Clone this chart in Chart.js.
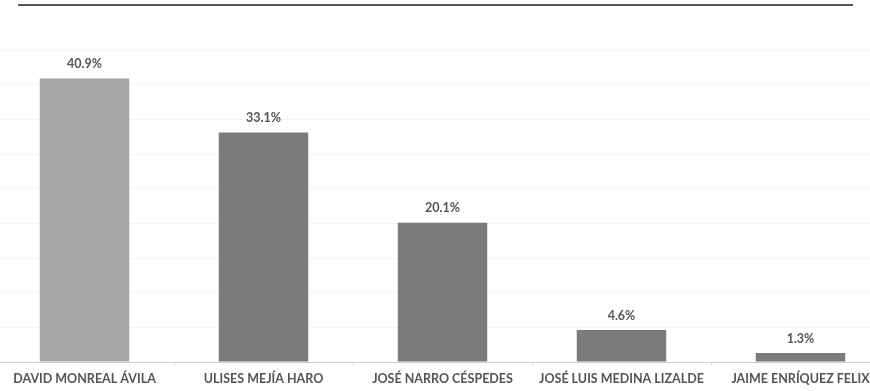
<!DOCTYPE html>
<html lang="es">
<head>
  <meta charset="UTF-8">
  <title>Preferencias</title>
  <script src="https://cdn.jsdelivr.net/npm/chart.js"></script>
  <style>
    body { margin: 0; background: #fff; overflow: hidden; width: 870px; height: 391px; position: relative; }
    .rule { position: absolute; left: 18px; top: 4px; width: 835px; height: 0; border-top: 2px solid #555; }
    .wrap { position: absolute; left: -5px; top: 0; width: 895px; height: 391px; }
  </style>
</head>
<body>
<div class="rule"></div>
<div class="wrap"><canvas id="chart"></canvas></div>

<script>
const candidates = ["DAVID MONREAL ÁVILA", "ULISES MEJÍA HARO", "JOSÉ NARRO CÉSPEDES", "JOSÉ LUIS MEDINA LIZALDE", "JAIME ENRÍQUEZ FELIX"];
const percentages = [40.9, 33.1, 20.1, 4.6, 1.3];
const barColors = ["#a6a6a6", "#7b7b7b", "#7b7b7b", "#7b7b7b", "#7b7b7b"];

// labels above each bar
const valueLabels = {
  id: "valueLabels",
  afterDatasetsDraw(chart) {
    const ctx = chart.ctx;
    const meta = chart.getDatasetMeta(0);
    ctx.save();
    ctx.font = "bold 12.5px Lato, sans-serif";
    ctx.fillStyle = "#555";
    ctx.textAlign = "center";
    ctx.textBaseline = "bottom";
    meta.data.forEach((bar, i) => {
      ctx.fillText(percentages[i].toFixed(1) + "%", bar.x, bar.y - 8);
    });
    ctx.restore();
  }
};

new Chart(document.getElementById("chart"), {
  type: "bar",
  data: {
    labels: candidates,
    datasets: [{ data: percentages, backgroundColor: barColors, categoryPercentage: 1, barPercentage: 0.5 }]
  },
  options: {
    responsive: true,
    maintainAspectRatio: false,
    animation: false,
    layout: { padding: { top: 50, bottom: 0, left: 0, right: 0 } },
    plugins: { legend: { display: false }, tooltip: { enabled: false } },
    scales: {
      x: {
        grid: { offset: true, drawOnChartArea: false, color: "#d9d9d9", tickLength: 4 },
        border: { color: "#cfcfcf" },
        ticks: { color: "#555", font: { family: "Lato", size: 12.5, weight: "bold" }, maxRotation: 0, padding: 5 }
      },
      y: {
        min: 0, max: 45,
        ticks: { display: false, stepSize: 5 },
        grid: { color: "#f4f4f4", drawTicks: false },
        border: { display: false }
      }
    }
  },
  plugins: [valueLabels]
});
</script>
</body>
</html>
